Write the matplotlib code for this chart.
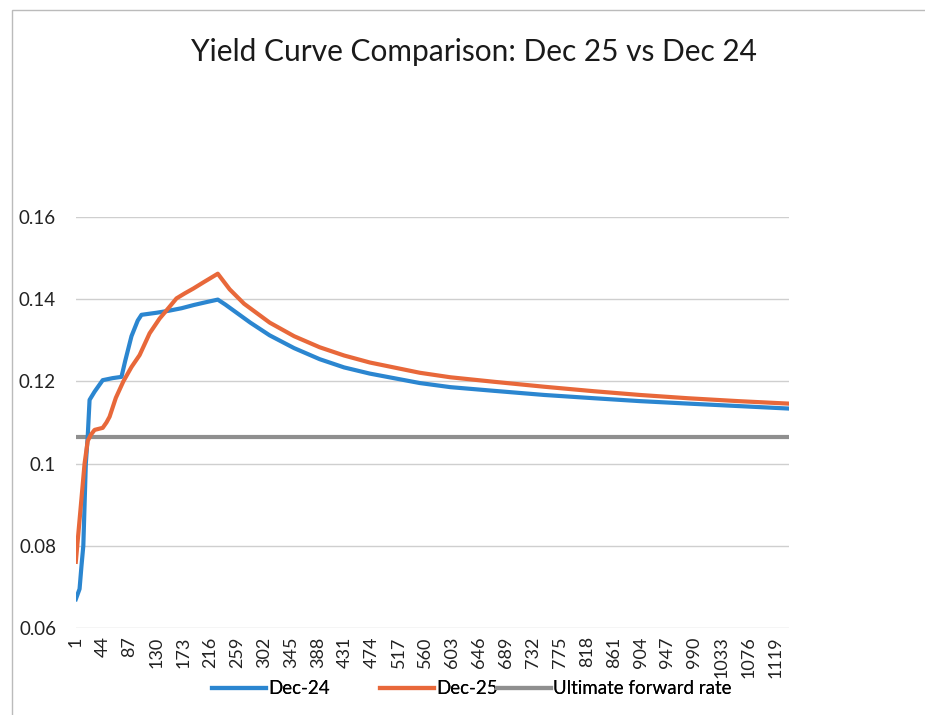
import matplotlib
matplotlib.use("Agg")
import matplotlib.pyplot as plt
from matplotlib.patches import Rectangle
from matplotlib.lines import Line2D

# ---- data ----
n_categories = 1140
x_tick_labels = [1, 44, 87, 130, 173, 216, 259, 302, 345, 388, 431, 474, 517,
                 560, 603, 646, 689, 732, 775, 818, 861, 904, 947, 990, 1033,
                 1076, 1119]
y_ticks = [0.06, 0.08, 0.1, 0.12, 0.14, 0.16]
y_tick_labels = ["0.06", "0.08", "0.1", "0.12", "0.14", "0.16"]
series_names = ["Dec-24", "Dec-25", "Ultimate forward rate"]

dec24_idx = [1, 7, 10, 13, 17, 20, 23, 31, 44, 60, 74, 80, 90, 100, 106, 130,
             150, 170, 190, 210, 228, 240, 260, 280, 311, 350, 391, 430, 471,
             551, 600, 670, 750, 830, 903, 980, 1060, 1140]
dec24_val = [0.067, 0.0695, 0.075, 0.080, 0.100, 0.1065, 0.1155, 0.1175,
             0.1203, 0.1208, 0.1211, 0.125, 0.131, 0.1348, 0.1362, 0.1367,
             0.1372, 0.1378, 0.1386, 0.1393, 0.1399, 0.1387, 0.1365, 0.1343,
             0.1312, 0.1281, 0.1254, 0.1234, 0.1219, 0.1196, 0.1186, 0.1177,
             0.1167, 0.1159, 0.1152, 0.1146, 0.1140, 0.1134]

dec25_idx = [1, 8, 15, 20, 25, 31, 44, 50, 55, 65, 77, 90, 103, 119, 135, 150,
             162, 175, 189, 205, 228, 247, 270, 311, 350, 391, 430, 471, 551,
             600, 670, 750, 830, 903, 980, 1060, 1140]
dec25_val = [0.0761, 0.088, 0.100, 0.1055, 0.107, 0.1082, 0.1087, 0.110,
             0.1114, 0.116, 0.120, 0.1235, 0.1264, 0.1317, 0.1353, 0.138,
             0.1402, 0.1414, 0.1426, 0.1441, 0.1462, 0.1424, 0.1389, 0.1343,
             0.1310, 0.1283, 0.1263, 0.1246, 0.1221, 0.1210, 0.1199, 0.1187,
             0.1176, 0.1167, 0.1159, 0.1152, 0.1146]

ufr_idx = [1, 1140]
ufr_val = [0.1065, 0.1065]

# ---- styling ----
plt.rcParams['font.family'] = ['Lato', 'DejaVu Sans']
W, H = 925, 715
fig = plt.figure(figsize=(W / 100, H / 100), dpi=100)
fig.patch.set_facecolor("white")

left, right, top, bottom = 75.5, 788.5, 217, 628
ax = fig.add_axes([left / W, 1 - bottom / H, (right - left) / W, (bottom - top) / H])

c_blue = "#2B86D0"
c_orange = "#E8683A"
c_grey = "#8F8F8F"
colors = [c_blue, c_orange, c_grey]

ax.plot(dec24_idx, dec24_val, color=c_blue, lw=3.0, solid_joinstyle="round",
        zorder=3)
ax.plot(dec25_idx, dec25_val, color=c_orange, lw=3.0, solid_joinstyle="round",
        zorder=4)
ax.plot(ufr_idx, ufr_val, color=c_grey, lw=3.0, zorder=2)

ax.set_xlim(0.5, n_categories + 0.5)
ax.set_ylim(0.06, 0.16)
ax.set_yticks(y_ticks)
ax.set_yticklabels(y_tick_labels, fontsize=13.5, color="#222222")
ax.set_xticks(x_tick_labels)
ax.set_xticklabels([str(v) for v in x_tick_labels], rotation=90,
                   fontsize=13, color="#222222")
ax.tick_params(axis="both", length=0)
ax.tick_params(axis="y", pad=14)
ax.tick_params(axis="x", pad=6)
for s in ax.spines.values():
    s.set_visible(False)
ax.grid(axis="y", color="#CFCFCF", lw=1.0)
ax.set_axisbelow(True)

fig.text(474 / W, 1 - 52 / H, "Yield Curve Comparison: Dec 25 vs Dec 24",
         ha="center", va="center", fontsize=21.5, color="#1a1a1a")

# legend entries placed like the reference (uneven spacing)
leg_x = [212, 380, 497]
for name, col, xp in zip(series_names, colors, leg_x):
    lg = fig.legend(handles=[Line2D([], [], color=col, lw=3.0)], labels=[name],
                    loc="center left", bbox_to_anchor=(xp / W, 1 - 689 / H),
                    frameon=False, fontsize=13.5, handlelength=2.9,
                    handletextpad=0.1, borderpad=0, borderaxespad=0)
    fig.add_artist(lg)

# chart border
fig.add_artist(Rectangle((12 / W, -0.05), (940 - 12) / W, 1.05 - 10 / H,
                         transform=fig.transFigure, fill=False,
                         edgecolor="#BBBBBB", lw=1.0))

fig.savefig("out.png", dpi=100, facecolor="white")
